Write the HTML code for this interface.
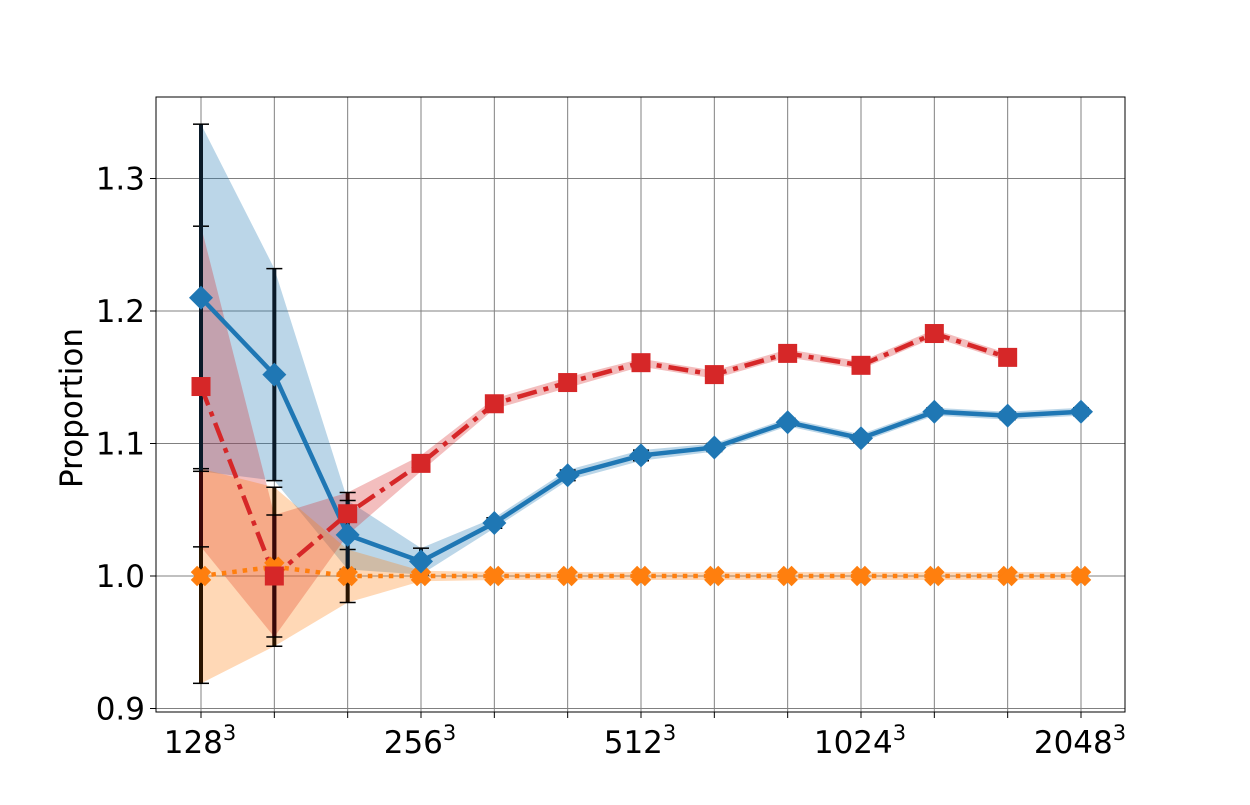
<!DOCTYPE html>
<html><head><meta charset="utf-8"><style>
body{margin:0;background:#fff;width:1250px;height:800px;overflow:hidden}
svg text{font-family:"DejaVu Sans","Liberation Sans",sans-serif}
</style></head><body>
<svg id="chart" width="1250" height="800"></svg>
<script>
const xLabels=["128","","","256","","","512","","","1024","","","2048"];
const blueVals=[1.210,1.152,1.031,1.011,1.040,1.076,1.091,1.097,1.116,1.104,1.124,1.121,1.124];
const blueErr=[0.131,0.080,0.026,0.010,0.004,0.004,0.004,0.003,0.003,0.003,0.003,0.003,0.003];
const redVals=[1.143,1.000,1.047,1.085,1.130,1.146,1.161,1.152,1.168,1.159,1.183,1.165];
const redErr=[0.121,0.046,0.016,0.006,0.004,0.004,0.003,0.003,0.003,0.003,0.003,0.003];
const orangeVals=[1.000,1.007,1.000,1.000,1.000,1.000,1.000,1.000,1.000,1.000,1.000,1.000,1.000];
const orangeErr=[0.081,0.060,0.020,0.004,0.003,0.003,0.003,0.003,0.003,0.003,0.003,0.003,0.003];
const yTicks=[0.9,1.0,1.1,1.2,1.3];

const svg=document.getElementById('chart');
const NS='http://www.w3.org/2000/svg';
const L=156,R=1125,T=97,B=712;
const xs=i=>201+i*(1081-201)/12;
const ys=v=>576-(v-1.0)*1325;
function mk(tag,attrs,parent){const e=document.createElementNS(NS,tag);for(const k in attrs)e.setAttribute(k,attrs[k]);(parent||svg).appendChild(e);return e;}

const grid=mk('g',{});


xLabels.forEach((l,i)=>{mk('line',{x1:xs(i),x2:xs(i),y1:T,y2:B,stroke:'#808080','stroke-width':1},grid);
 mk('line',{x1:xs(i),x2:xs(i),y1:B,y2:B+6,stroke:'#000','stroke-width':1},grid);});
yTicks.forEach(v=>{mk('line',{x1:L,x2:R,y1:ys(v),y2:ys(v),stroke:'#808080','stroke-width':1},grid);
 mk('line',{x1:L-6,x2:L,y1:ys(v),y2:ys(v),stroke:'#000','stroke-width':1},grid);});

function band(vals,err,color,name){
 let up=vals.map((v,i)=>xs(i)+','+ys(v+err[i]));
 let dn=vals.map((v,i)=>xs(i)+','+ys(v-err[i])).reverse();
 const p=mk('polygon',{points:up.concat(dn).join(' '),fill:color,'fill-opacity':0.3,stroke:'none'});
 
 
}
band(blueVals,blueErr,'#1f77b4','blue-band');
band(redVals,redErr,'#d62728','red-band');
band(orangeVals,orangeErr,'#ff7f0e','orange-band');

function errbars(vals,err,color,name){
 const g=mk('g',{});
 
 
 vals.forEach((v,i)=>{const x=xs(i),a=ys(v+err[i]),b=ys(v-err[i]);
  mk('line',{x1:x,x2:x,y1:a,y2:b,stroke:color,'stroke-width':4},g);
  mk('line',{x1:x-8,x2:x+8,y1:a,y2:a,stroke:'#000','stroke-width':1.5},g);
  mk('line',{x1:x-8,x2:x+8,y1:b,y2:b,stroke:'#000','stroke-width':1.5},g);});
}
errbars(orangeVals,orangeErr,'#2a1400','orange-errorbars');
errbars(redVals,redErr,'#3a0808','red-errorbars');
errbars(blueVals,blueErr,'#0a1a28','blue-errorbars');

function line(vals,color,dash,name){
 const p=mk('polyline',{points:vals.map((v,i)=>xs(i)+','+ys(v)).join(' '),fill:'none',stroke:color,'stroke-width':4.5,'stroke-dasharray':dash});
 
 
}
line(orangeVals,'#ff7f0e','4.5 6','orange-line');
line(redVals,'#d62728','20 7 5 7','red-line');
line(blueVals,'#1f77b4','none','blue-line');

orangeVals.forEach((v,i)=>{const x=xs(i),y=ys(v);
 const g=mk('g',{transform:`translate(${x},${y}) rotate(45)`});
 
 
 mk('rect',{x:-10,y:-4.5,width:20,height:9,fill:'#ff7f0e'},g);
 mk('rect',{x:-4.5,y:-10,width:9,height:20,fill:'#ff7f0e'},g);});
redVals.forEach((v,i)=>{const m=mk('rect',{x:xs(i)-9.5,y:ys(v)-9.5,width:19,height:19,fill:'#d62728'});
 
 });
blueVals.forEach((v,i)=>{const x=xs(i),y=ys(v);
 const m=mk('polygon',{points:`${x},${y-12} ${x+12},${y} ${x},${y+12} ${x-12},${y}`,fill:'#1f77b4'});
 
 });

const fr=mk('rect',{x:L,y:T,width:R-L,height:B-T,fill:'none',stroke:'#000','stroke-width':1});



yTicks.forEach(v=>{const t=mk('text',{x:L-11,y:ys(v)+11,'text-anchor':'end','font-size':31,fill:'#000'});
 t.textContent=v.toFixed(1);
 
 });
xLabels.forEach((l,i)=>{if(!l)return;
 const t=mk('text',{x:xs(i)-1,y:753,'text-anchor':'middle','font-size':31,fill:'#000'});
 t.textContent=l;
 const s=mk('tspan',{dy:-13,'font-size':21},t);s.textContent='3';
 
 });
const yt=mk('text',{x:0,y:0,transform:'translate(82,408) rotate(-90)','text-anchor':'middle','font-size':31,fill:'#000'});
yt.textContent='Proportion';


</script>
</body></html>
